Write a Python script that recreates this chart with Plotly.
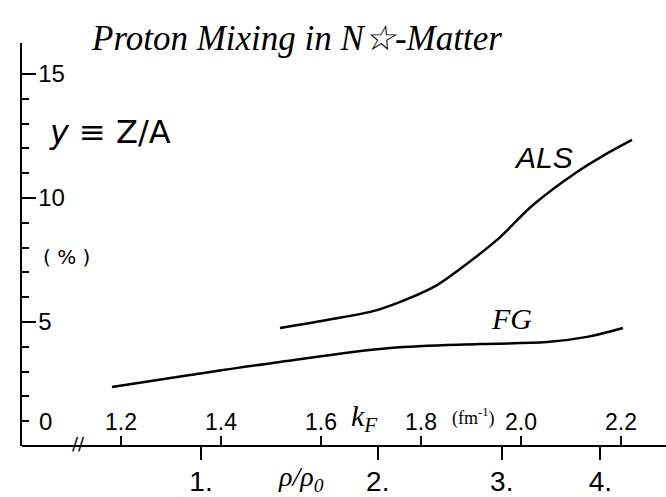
import plotly.graph_objects as go

# ---- data ----
kf_als = [1.518, 1.612, 1.712, 1.778, 1.832, 1.878, 1.952, 2.024, 2.112, 2.164, 2.222]
y_als = [4.76, 5.08, 5.48, 5.97, 6.49, 7.14, 8.31, 9.72, 11.05, 11.70, 12.34]

kf_fg = [1.182, 1.338, 1.518, 1.738, 1.918, 2.052, 2.132, 2.204]
y_fg = [2.38, 2.86, 3.39, 3.95, 4.11, 4.19, 4.40, 4.76]

kf_ticks = [1.2, 1.4, 1.6, 1.8, 2.0, 2.2]
kf_labels = ["1.2", "1.4", "1.6", "1.8", "2.0", "2.2"]
rho_ticks = [1, 2, 3, 4]
rho_labels = ["1.", "2.", "3.", "4."]
kf0 = 1.36  # kF at rho0 (fm^-1)
y_ticks = [5, 10, 15]
y_minor = [1, 2, 3, 4, 6, 7, 8, 9, 11, 12, 13, 14]

W, H = 666, 497
L, R, T, B = 22, 0, 43, 51
PW, PH = W - L - R, H - T - B


def px(x, y):
    return (x - L) / PW, (H - B - y) / PH


rho_kf = [kf0 * r ** (1.0 / 3.0) for r in rho_ticks]
krange = [1.002, 2.29]

fig = go.Figure()
line = dict(color="black", width=2.5, shape="spline", smoothing=1.0)
fig.add_trace(go.Scatter(x=kf_als, y=y_als, mode="lines", line=line, showlegend=False, hoverinfo="skip"))
fig.add_trace(go.Scatter(x=kf_fg, y=y_fg, mode="lines", line=line, showlegend=False, hoverinfo="skip"))
fig.add_trace(go.Scatter(x=[None], y=[None], xaxis="x2", mode="lines", showlegend=False, hoverinfo="skip"))

ann = []


def text(x, y, s, size, family="Liberation Sans", **kw):
    xp, yp = px(x, y)
    ann.append(dict(x=xp, y=yp, xref="paper", yref="paper", text=s, showarrow=False,
                    font=dict(size=size, family=family, color="black"), xanchor="center", yanchor="middle", **kw))


text(296, 38, "<i>Proton Mixing in N☆-Matter</i>", 35, "Liberation Serif")
text(110, 132, "<i>y</i> ≡ Z/A", 32, "DejaVu Sans")
text(66, 257, "( % )", 20, "DejaVu Sans")
text(543, 157, "<i>ALS</i>", 30, "Liberation Sans")
text(511, 318, "<i>FG</i>", 30, "Liberation Serif")
text(364, 418, "<i>k<sub>F</sub></i>", 30, "Liberation Serif")
text(473, 417, "(fm<sup>-1</sup>)", 18, "Liberation Serif")
text(301, 478, "<i>ρ/ρ<sub>0</sub></i>", 28, "Liberation Serif")
text(78, 443, "//", 18, "DejaVu Sans")
text(45, 421, "0", 24, "Liberation Sans")

fig.update_layout(
    template="none",
    width=W, height=H,
    margin=dict(l=L, r=R, t=T, b=B, pad=0, autoexpand=False),
    paper_bgcolor="white", plot_bgcolor="white",
    showlegend=False,
    annotations=ann,
    xaxis=dict(range=krange, side="top", anchor="free", position=0, automargin=False,
               tickmode="array", tickvals=kf_ticks, ticktext=kf_labels,
               ticks="outside", ticklen=9, tickwidth=2, tickcolor="black",
               showline=True, linewidth=2, linecolor="black",
               showgrid=False, zeroline=False,
               tickfont=dict(size=23, family="Liberation Sans", color="black"),
               ticklabelstandoff=-3),
    xaxis2=dict(range=krange, overlaying="x", anchor="y", side="bottom", automargin=False,
                tickmode="array", tickvals=rho_kf, ticktext=rho_labels,
                ticks="outside", ticklen=13, tickwidth=2, tickcolor="black",
                showline=False, showgrid=False, zeroline=False,
                tickfont=dict(size=28, family="Liberation Sans", color="black"),
                ticklabelstandoff=-3),
    yaxis=dict(range=[0, PH / 24.8], tickmode="array", tickvals=y_ticks, automargin=False,
               ticktext=[str(v) for v in y_ticks],
               ticks="inside", ticklen=14, tickwidth=2, tickcolor="black",
               ticklabelposition="inside", ticklabelstandoff=4,
               showline=True, linewidth=2, linecolor="black",
               showgrid=False, zeroline=False,
               tickfont=dict(size=24, family="Liberation Sans", color="black"),
               minor=dict(tickmode="array", tickvals=y_minor, ticks="inside", ticklen=7, tickwidth=2, tickcolor="black")),
)

fig.write_html("out.html", config={"displayModeBar": False},
               post_script="document.body.style.margin='0';document.body.style.padding='0';")
